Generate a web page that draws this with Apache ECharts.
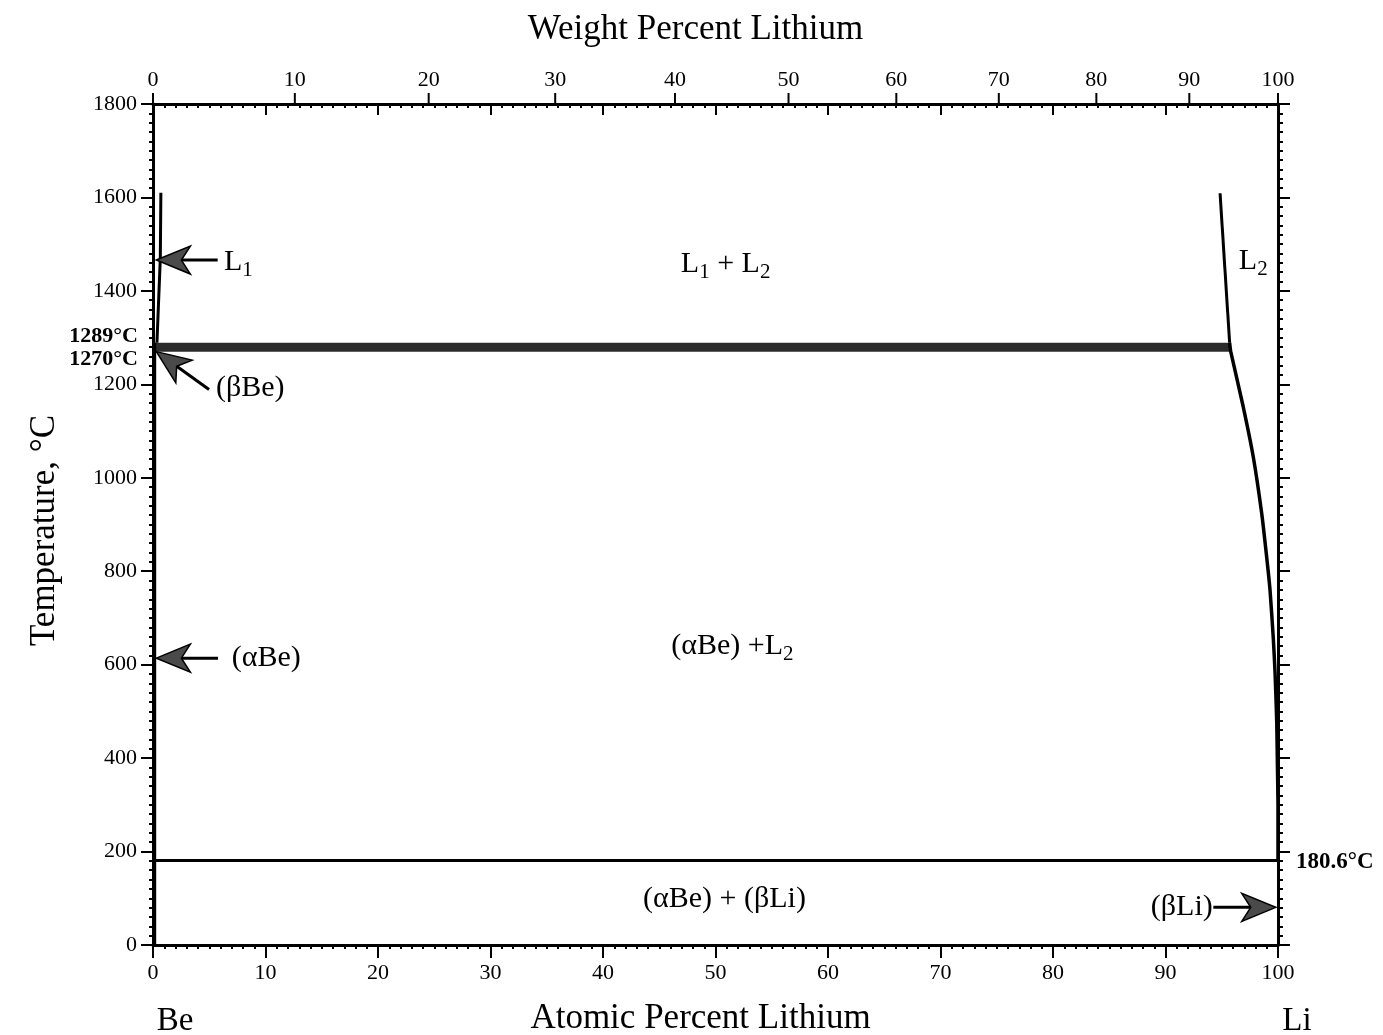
<!DOCTYPE html>
<html>
<head>
<meta charset="utf-8">
<title>Be-Li phase diagram</title>
<script src="https://cdn.jsdelivr.net/npm/echarts@6/dist/echarts.min.js"></script>
<style>
  html, body { margin: 0; padding: 0; background: #fff; }
  #chart { width: 1383px; height: 1035px; }
</style>
</head>
<body>
<div id="chart"></div>
<script>
// x = atomic percent Li, y = temperature in °C
var wtTicks = [0, 10, 20, 30, 40, 50, 60, 70, 80, 90, 100];
var massLi = 6.941, massBe = 9.012;

var liquidusL1 = [[0.7, 1610], [0.65, 1470], [0.35, 1289]];
var solvusBe = [[0.15, 1289], [0.15, 0]];
var liquidusL2 = [[94.85, 1609], [95.7, 1289]];
var solvusL2 = [[95.7, 1289], [95.8, 1270], [96.91, 1152], [97.8, 1045], [98.55, 924], [98.99, 831],
                [99.29, 760], [99.59, 653], [99.74, 582], [99.89, 475], [99.94, 396], [100, 300], [100, 180.6]];
var eutectic = [[0, 180.6], [100, 180.6]];
var monotectic = [[0, 1270], [95.8, 1289]];   // band from 1270 to 1289

// arrows: tail x, tail y, tip x, tip y
var arrows = [
  [5.75, 1466, 0.3, 1466],
  [4.98, 1189, 0.3, 1270],
  [5.78, 614, 0.3, 614],
  [94.25, 80.6, 99.8, 80.6]
];

// phase labels: text, x, y, where
var phaseLabels = [
  ['L{s|1}', 6.3, 1462, 'right'],
  ['(βBe)', 5.6, 1192, 'right'],
  ['(αBe)', 7.0, 614, 'right'],
  ['(βLi)', 94.2, 80.6, 'left'],
  ['L{s|1} + L{s|2}', 50.9, 1458, 'inside'],
  ['(αBe) +L{s|2}', 51.5, 640, 'inside'],
  ['(αBe) + (βLi)', 50.8, 98, 'inside'],
  ['L{s|2}', 97.8, 1464, 'inside']
];

// temperature notes: text, x, y, where, dy
var tempLabels = [
  ['1289°C', 0, 1289, 'left', -6],
  ['1270°C', 0, 1270, 'left', 8],
  ['180.6°C', 100, 180.6, 'right', 1]
];

// element names under the axis ends: text, x, dx
var elementLabels = [['Be', 0, 22], ['Li', 100, 19]];

var serif = '"Liberation Serif", "DejaVu Serif", serif';

function toAtomic(w) {
  var li = w / massLi, be = (100 - w) / massBe;
  return 100 * li / (li + be);
}

function curve(name, data, width, smooth) {
  return {
    name: name, type: 'line', data: data, showSymbol: false, symbol: 'none',
    clip: false, silent: true, smooth: smooth || false,
    lineStyle: { color: '#000', width: width || 3 }
  };
}

var chart = echarts.init(document.getElementById('chart'));

var axisFont = { fontFamily: serif, fontSize: 22, color: '#000' };
var tickStyle = { color: '#000', width: 2 };
var frameLine = { show: true, onZero: false, lineStyle: { color: '#000', width: 3 } };

chart.setOption({
  animation: false,
  backgroundColor: '#fff',
  grid: { left: 153, right: 105, top: 104, bottom: 90, outerBoundsMode: 'none', containLabel: false },
  xAxis: [{
    type: 'value', position: 'bottom', min: 0, max: 100, interval: 10,
    name: 'Atomic Percent Lithium', nameLocation: 'middle', nameGap: 56,
    nameTextStyle: { fontFamily: serif, fontSize: 35, color: '#000', padding: [0, 30, 0, 0] },
    axisLine: frameLine,
    axisTick: { show: true, inside: false, length: 13, lineStyle: tickStyle },
    minorTick: { show: true, splitNumber: 10, length: 4, lineStyle: tickStyle },
    axisLabel: Object.assign({ margin: 17 }, axisFont),
    splitLine: { show: false }
  }, {
    type: 'value', position: 'top', min: 0, max: 100, interval: 10,
    name: 'Weight Percent Lithium', nameLocation: 'middle', nameGap: 57,
    nameTextStyle: { fontFamily: serif, fontSize: 35, color: '#000', padding: [0, 40, 0, 0] },
    axisLine: frameLine,
    axisTick: { show: true, inside: true, length: 11, lineStyle: tickStyle },
    minorTick: { show: true, splitNumber: 10, length: 4, lineStyle: tickStyle },
    axisLabel: { show: false },
    splitLine: { show: false }
  }],
  yAxis: [{
    type: 'value', position: 'left', min: 0, max: 1800, interval: 200,
    name: 'Temperature, °C', nameLocation: 'middle', nameGap: 91,
    nameTextStyle: { fontFamily: serif, fontSize: 35, color: '#000', padding: [0, 12, 0, 0] },
    axisLine: frameLine,
    axisTick: { show: true, inside: false, length: 12, lineStyle: tickStyle },
    minorTick: { show: true, splitNumber: 10, length: 4, lineStyle: tickStyle },
    axisLabel: Object.assign({ margin: 16, formatter: function (v) { return String(v); } }, axisFont),
    splitLine: { show: false }
  }, {
    type: 'value', position: 'right', min: 0, max: 1800, interval: 200,
    axisLine: frameLine,
    axisTick: { show: true, inside: false, length: 12, lineStyle: tickStyle },
    minorTick: { show: true, splitNumber: 10, length: 5, lineStyle: tickStyle },
    axisLabel: { show: false },
    splitLine: { show: false }
  }],
  series: [
    curve('L1 liquidus', liquidusL1, 3),
    curve('Be solvus', solvusBe, 3),
    curve('L2 liquidus', liquidusL2, 3),
    curve('L2 solvus', solvusL2, 3.5, 0.2),
    curve('eutectic', eutectic, 3),
    {
      // keeps the top and right frame axes in use
      name: 'frame', type: 'line', xAxisIndex: 1, yAxisIndex: 1, data: [[0, 0]],
      showSymbol: false, symbol: 'none', silent: true, lineStyle: { width: 0 }
    },
    {
      name: 'monotectic', type: 'line', data: [], silent: true,
      markArea: {
        silent: true,
        itemStyle: { color: '#2b2b2b' },
        data: [[{ coord: monotectic[0] }, { coord: monotectic[1] }]]
      }
    },
    {
      // weight percent scale along the top
      name: 'wt ticks', type: 'custom', clip: false, silent: true, z: 10,
      data: wtTicks.map(function (w) { return [toAtomic(w), 1800, w]; }),
      renderItem: function (params, api) {
        var p = api.coord([api.value(0), api.value(1)]);
        return {
          type: 'group',
          children: [{
            type: 'line',
            shape: { x1: p[0], y1: p[1], x2: p[0], y2: p[1] - 11 },
            style: { stroke: '#000', lineWidth: 2 }
          }, {
            type: 'text', x: p[0], y: p[1] - 13,
            style: {
              text: String(api.value(2)), fill: '#000',
              font: '22px ' + serif, align: 'center', verticalAlign: 'bottom'
            }
          }]
        };
      }
    },
    {
      name: 'arrows', type: 'custom', clip: false, silent: true, z: 5,
      data: arrows,
      renderItem: function (params, api) {
        var p0 = api.coord([api.value(0), api.value(1)]);
        var p1 = api.coord([api.value(2), api.value(3)]);
        var dx = p1[0] - p0[0], dy = p1[1] - p0[1];
        var len = Math.sqrt(dx * dx + dy * dy);
        var ux = dx / len, uy = dy / len, nx = -uy, ny = ux;
        var headLen = 34, headW = 14, notch = 9;
        var bx = p1[0] - ux * headLen, by = p1[1] - uy * headLen;
        var mx = p1[0] - ux * (headLen - notch), my = p1[1] - uy * (headLen - notch);
        return {
          type: 'group',
          children: [{
            type: 'line',
            shape: { x1: p0[0], y1: p0[1], x2: mx, y2: my },
            style: { stroke: '#000', lineWidth: 3 }
          }, {
            type: 'polygon',
            shape: { points: [p1, [bx + nx * headW, by + ny * headW], [mx, my], [bx - nx * headW, by - ny * headW]] },
            style: { fill: '#4a4a4a', stroke: '#000', lineWidth: 1.5 }
          }]
        };
      }
    },
    {
      name: 'phase labels', type: 'scatter', symbolSize: 0, silent: true, clip: false, z: 6,
      itemStyle: { opacity: 1 },
      data: phaseLabels.map(function (d) {
        return { value: [d[1], d[2]], label: { formatter: d[0], position: d[3] } };
      }),
      label: {
        show: true, distance: 0, color: '#000', opacity: 1, fontFamily: serif, fontSize: 30, lineHeight: 38,
        rich: { s: { fontFamily: serif, fontSize: 21, color: '#000', lineHeight: 21, verticalAlign: 'bottom' } }
      }
    },
    {
      name: 'temperature notes', type: 'scatter', symbolSize: 0, silent: true, clip: false, z: 6,
      itemStyle: { opacity: 1 },
      data: tempLabels.map(function (d) {
        return { value: [d[1], d[2]], label: { formatter: d[0], position: d[3], offset: [0, d[4]],
          fontSize: d[0] === '180.6°C' ? 23 : 22, distance: d[0] === '180.6°C' ? 18 : 15 } };
      }),
      label: {
        show: true, color: '#000', opacity: 1, fontFamily: serif, fontWeight: 'bold'
      }
    },
    {
      name: 'elements', type: 'scatter', symbolSize: 0, silent: true, clip: false, z: 6,
      itemStyle: { opacity: 1 },
      data: elementLabels.map(function (d) {
        return { value: [d[1], 0], label: { formatter: d[0], offset: [d[2], 76] } };
      }),
      label: {
        show: true, position: 'inside', color: '#000', opacity: 1, fontFamily: serif, fontSize: 33
      }
    }
  ]
});
</script>
</body>
</html>
